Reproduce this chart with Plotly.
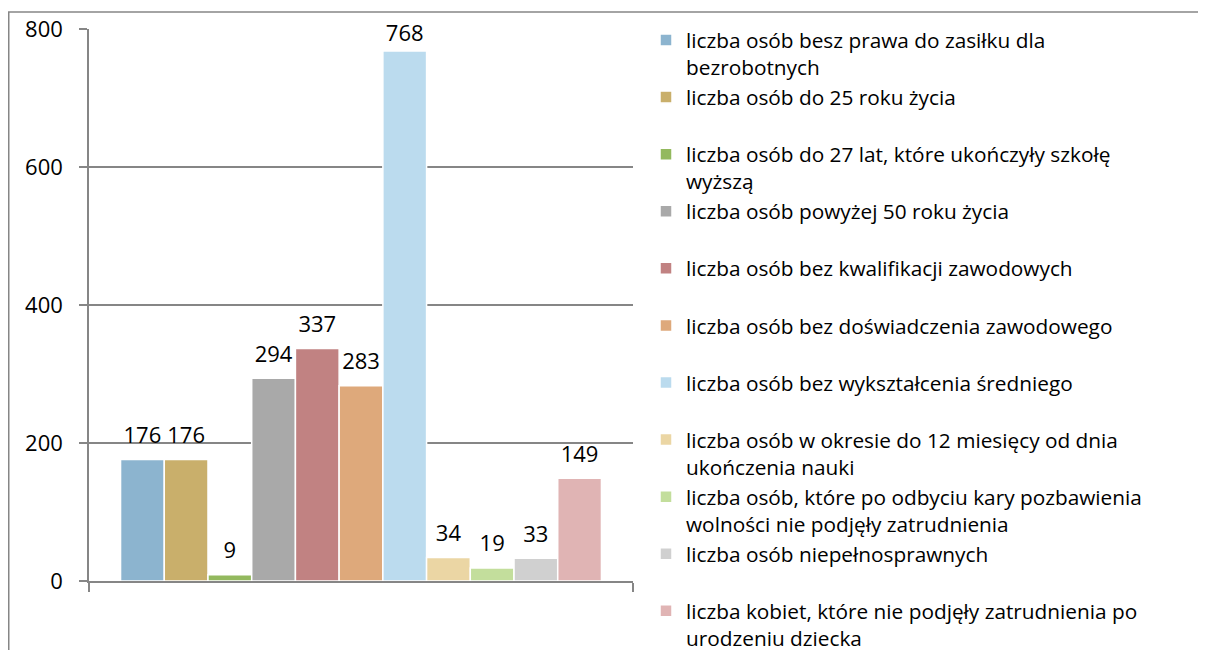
import plotly.graph_objects as go

categories = [""]
series_names = [
    "liczba osób besz prawa do zasiłku dla<br>bezrobotnych",
    "liczba osób do 25 roku życia<br> ",
    "liczba osób do 27 lat, które ukończyły szkołę<br>wyższą",
    "liczba osób powyżej 50 roku życia<br> ",
    "liczba osób bez kwalifikacji zawodowych<br> ",
    "liczba osób bez doświadczenia zawodowego<br> ",
    "liczba osób bez wykształcenia średniego<br> ",
    "liczba osób w okresie do 12 miesięcy od dnia<br>ukończenia nauki",
    "liczba osób, które po odbyciu kary pozbawienia<br>wolności nie podjęły zatrudnienia",
    "liczba osób niepełnosprawnych<br> ",
    "liczba kobiet, które nie podjęły zatrudnienia po<br>urodzeniu dziecka",
]
values = [176, 176, 9, 294, 337, 283, 768, 34, 19, 33, 149]
colors = ["#8CB4CF", "#C9AF6B", "#93B95E", "#A9A9A9", "#C18282", "#DEA97B",
          "#BBDBEE", "#EBD6A4", "#C3DE9C", "#D0D0D0", "#E0B4B4"]
y_ticks = [0, 200, 400, 600, 800]

FONT = "Open Sans, Calibri, sans-serif"
GAP = 0.116
Y_MAX = 800

fig = go.Figure()
for i, (name, v, c) in enumerate(zip(series_names, values, colors)):
    fig.add_trace(go.Bar(
        x=categories, y=[v], name=name, offsetgroup=str(i),
        marker=dict(color=c, line=dict(color="white", width=1.5)),
    ))
for i, v in enumerate(values):
    # labels near the top of the axis sit closer to their bar (as in Excel)
    spacer = 0 if v > 0.9 * Y_MAX else 16
    fig.add_trace(go.Scatter(
        x=categories, y=[v], mode="markers+text", offsetgroup=str(i),
        text=[str(v)], textposition="top center", cliponaxis=False,
        marker=dict(size=spacer, opacity=0),
        textfont=dict(family=FONT, size=22, color="black"),
        showlegend=False, hoverinfo="skip",
    ))

# page body adds an 8px offset; the figure is sized to compensate
W, H = 1198, 642
L, R, T, B = 81, 573, 21, 69
pw, ph = W - L - R, H - T - B

def px2x(px):
    return (px - L) / pw

def py2y(py):
    return (H - B - py) / ph

fig.update_layout(
    width=W, height=H,
    margin=dict(l=L, r=R, t=T, b=B, autoexpand=False),
    paper_bgcolor="white", plot_bgcolor="white",
    barmode="group", bargap=GAP, bargroupgap=0,
    scattermode="group", scattergap=GAP,
    font=dict(family=FONT, size=21, color="black"),
    showlegend=True,
    legend=dict(
        xref="paper", yref="paper",
        x=px2x(638), y=py2y(12), xanchor="left", yanchor="top",
        valign="top", tracegroupgap=0, maxheight=3000,
        font=dict(family=FONT, size=20.8, color="black"),
        bgcolor="rgba(0,0,0,0)",
    ),
    xaxis=dict(
        showticklabels=False, showgrid=False, automargin=False,
        showline=True, linecolor="#868686", linewidth=1.5,
        ticks="outside", tickson="boundaries", ticklen=9, tickcolor="#868686",
        tickwidth=1.5,
    ),
    yaxis=dict(
        range=[0, Y_MAX], tickvals=y_ticks, automargin=False,
        showgrid=True, gridcolor="#868686", gridwidth=1.5,
        showline=True, linecolor="#868686", linewidth=1.5,
        ticks="outside", ticklen=8, tickcolor="#868686", tickwidth=1.5,
        ticklabelstandoff=12,
        tickfont=dict(family=FONT, size=22, color="black"),
        zeroline=False,
    ),
    shapes=[dict(
        type="rect", xref="paper", yref="paper",
        x0=px2x(0.75), x1=px2x(1215), y0=py2y(665), y1=py2y(4),
        line=dict(color="#868686", width=1.5), fillcolor="rgba(0,0,0,0)",
        layer="below",
    )],
)

fig.write_html("out.html")
